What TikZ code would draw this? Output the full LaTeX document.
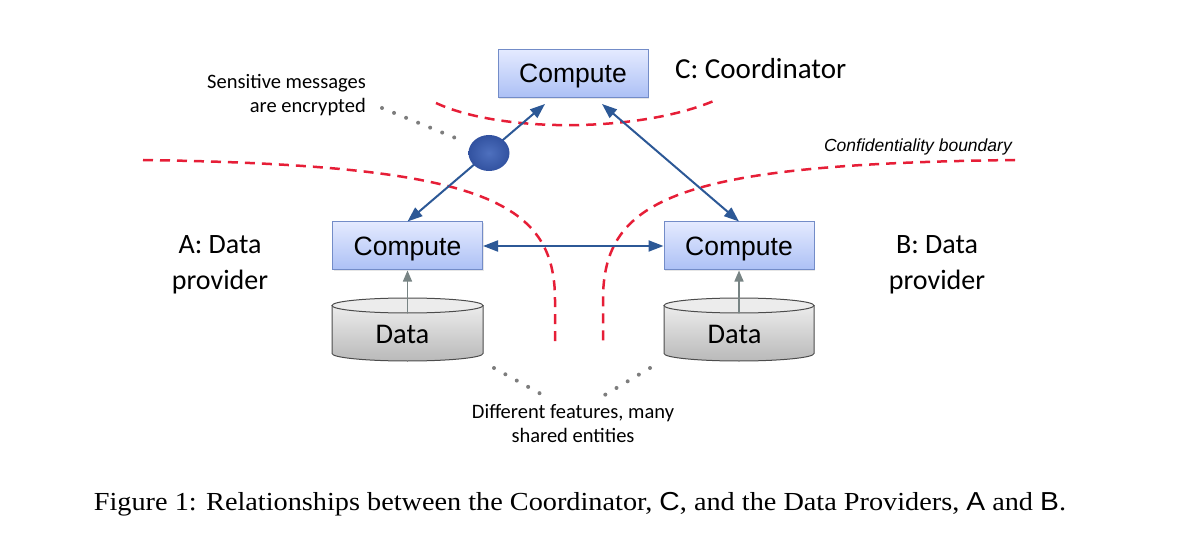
\documentclass[tikz,border=0pt]{standalone}
\usepackage{fontspec}
\setmainfont{Liberation Serif}
\newfontfamily\carl{Carlito}
\newfontfamily\arialf{Liberation Sans}
\usetikzlibrary{arrows.meta,shapes.geometric,calc,shadows}
\definecolor{arrblue}{RGB}{44,88,150}
\definecolor{bdred}{RGB}{230,30,55}
\definecolor{boxtop}{RGB}{228,234,255}
\definecolor{boxbot}{RGB}{172,192,245}
\definecolor{boxedge}{RGB}{115,140,200}
\definecolor{dotgray}{RGB}{125,125,125}
\definecolor{feedgray}{RGB}{120,132,132}
\definecolor{ballin}{RGB}{78,112,190}
\definecolor{ballout}{RGB}{50,82,160}
\definecolor{cyltop}{RGB}{236,236,236}
\definecolor{cylbot}{RGB}{185,185,185}
\begin{document}
\begin{tikzpicture}[x=1pt,y=-1pt,
  compbox/.style={draw=boxedge, line width=1pt, top color=boxtop, bottom color=boxbot,
    minimum width=150pt, minimum height=48pt, inner sep=0pt, text depth=0pt,
    font=\arialf\fontsize{26.5}{30}\selectfont,
    drop shadow={opacity=0.2,shadow xshift=1pt,shadow yshift=-1.5pt}},
  biarrow/.style={arrblue, line width=2pt,
    {Triangle[length=15pt,width=11pt]}-{Triangle[length=15pt,width=11pt]}},
  boundary/.style={bdred, line width=2.5pt, dash pattern=on 10pt off 7pt},
  dots/.style={dotgray, line width=4pt, line cap=round, dash pattern=on 0pt off 13pt},
  lbl/.style={font=\carl\fontsize{28}{36}\selectfont, align=center, inner sep=0pt},
  note/.style={font=\carl\fontsize{20.5}{24}\selectfont, inner sep=0pt},
  feed/.style={feedgray, line width=1.5pt, -{Triangle[length=11pt,width=9pt]}},
  cylbody/.style={draw=black!70, line width=1pt, top color=cyltop, bottom color=cylbot},
  cylcap/.style={draw=black!70, line width=1pt, fill=cyltop},
  datalbl/.style={font=\carl\fontsize{28.5}{34}\selectfont, inner sep=0pt},
  ball/.style={ellipse, minimum width=41pt, minimum height=36pt, inner sep=0pt,
    shading=radial, inner color=ballin, outer color=ballout},
]
\useasboundingbox (0,0) rectangle (1196,537);

% confidentiality boundaries
\draw[boundary] (436,103) .. controls (500,133) and (640,133) .. (716,100);
\draw[boundary] (143,160) .. controls (480,165) and (555,200) .. (555,300) -- (555,347);
\draw[boundary] (1015,160) .. controls (678,164) and (603,198) .. (603,300) -- (603,347);

% compute boxes
\node[compbox] (compC) at (573,73.5) {Compute};
\node[compbox] (compA) at (407.5,246) {Compute};
\node[compbox] (compB) at (739,246) {Compute};

% data cylinders
\path[cylbody] (332,305.5) -- (332,353.5) arc[start angle=180, end angle=0, x radius=75.5, y radius=7.5] -- (483,305.5) -- cycle;
\path[cylcap] (407.5,305.5) ellipse[x radius=75.5, y radius=7.5];
\node[datalbl] (dataA) at (402.5,334) {Data};
\coordinate (dAtop) at (407.5,313);

\path[cylbody] (664,305.5) -- (664,353.5) arc[start angle=180, end angle=0, x radius=75, y radius=7.5] -- (814,305.5) -- cycle;
\path[cylcap] (739,305.5) ellipse[x radius=75, y radius=7.5];
\node[datalbl] (dataB) at (734.5,334) {Data};
\coordinate (dBtop) at (739,313);

\draw[feed] (dAtop) -- (compA.south);
\draw[feed] (dBtop) -- (compB.south);

% message arrows
\draw[biarrow] (compA.east) -- (compB.west);
\draw[biarrow] (compA.north) -- ($(compC.south)+(-28,6)$);
\draw[biarrow] ($(compC.south)+(29,6)$) -- (compB.north);

% encrypted message
\node[ball] (enc) at (489,153) {};

% labels (anchor=base refers to the last line)
\node[note, align=right, anchor=base east] (sens) at (366,113) {Sensitive messages\\are encrypted};
\node[lbl, anchor=base west, font=\carl\fontsize{29}{36}\selectfont] (coord) at (675,79) {C: Coordinator};
\node[lbl, anchor=base] (provA) at (220,290) {A: Data\\provider};
\node[lbl, anchor=base] (provB) at (937,290) {B: Data\\provider};
\node[font=\arialf\itshape\fontsize{17.5}{20}\selectfont, anchor=base east, inner sep=0pt] (conf) at (1012,152) {Confidentiality boundary};
\node[note, align=center, anchor=base] (diff) at (573,442) {Different features, many\\shared entities};

% dotted pointers
\coordinate (s1) at (382,108);
\coordinate (s2) at (458,139);
\draw[dots] (s1) -- (s2);
\coordinate (d1) at (494,368);
\coordinate (d2) at (541,394);
\draw[dots] (d1) -- (d2);
\coordinate (d3) at (650,368);
\coordinate (d4) at (603,396);
\draw[dots] (d3) -- (d4);

% caption
\node[font=\fontsize{26}{30}\selectfont, anchor=base, inner sep=0pt] (cap) at (580,510)
  {\scalebox{1.087}[1]{Figure 1: Relationships between the Coordinator, {\arialf C}, and the Data Providers, {\arialf A} and {\arialf B}.}};
\end{tikzpicture}
\end{document}
